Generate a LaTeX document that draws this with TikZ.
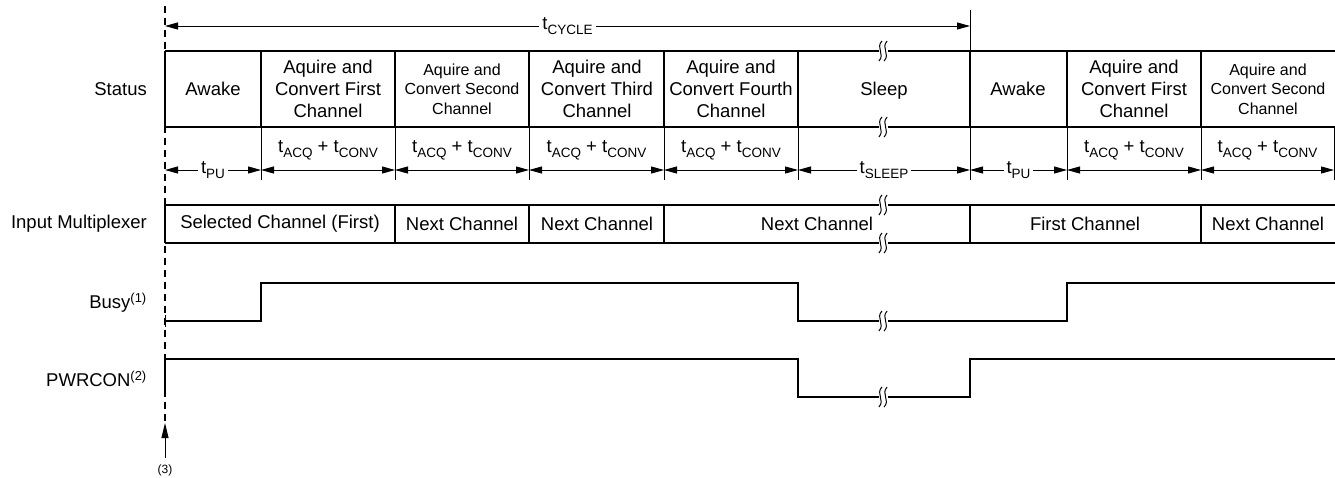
\documentclass[tikz,border=0pt]{standalone}
\usepackage{fontspec}
\setmainfont{Liberation Sans}
\usepackage{tikz}
\usetikzlibrary{arrows.meta,calc}
\newcommand\cellfont{\fontsize{18.5}{21.7}\selectfont}
\newcommand\smallcellfont{\fontsize{16}{19.5}\selectfont}
\newcommand\tsub[1]{t\raisebox{-0.3em}{\fontsize{13.5}{14}\selectfont #1}}
\tikzset{
  frame/.style={line width=2pt},
  thinline/.style={line width=0.9pt},
  sig/.style={line width=2pt, line join=miter},
  dim/.style={{Triangle[length=13pt,width=7pt]}-{Triangle[length=13pt,width=7pt]}, line width=0.9pt},
  marker/.style={-{Triangle[length=15pt,width=7pt]}, line width=0.9pt},
  dashline/.style={line width=1.8pt, dash pattern=on 7pt off 5pt},
  cell/.style={align=center, font=\cellfont, inner sep=0pt},
  smallcell/.style={align=center, font=\smallcellfont, inner sep=0pt},
  rowlbl/.style={anchor=east, font=\cellfont, inner sep=0pt},
  tlbl/.style={font=\cellfont, fill=white, inner sep=3pt},
  acqlbl/.style={font=\cellfont, anchor=base, inner sep=0pt},
  brk/.pic={
    \fill[white] (-4.5,-3) rectangle (4.5,3);
    \foreach \o in {-2.6,2.6}
      \draw[line width=1pt] (\o+1.5,-10) .. controls (\o-5,-3) and (\o+5,3) .. (\o-1.5,10);
  }
}
\begin{document}
\begin{tikzpicture}[x=1pt,y=-1pt]
\useasboundingbox (0,0) rectangle (1335,477);
% row labels
\node[rowlbl] (lstatus) at (147,89) {Status};
\node[rowlbl] (lmux) at (147,224) {Input Multiplexer};
\node[rowlbl] (lbusy) at (147,303) {Busy\textsuperscript{(1)}};
\node[rowlbl] (lpwr) at (147,379) {PWRCON\textsuperscript{(2)}};
% start marker
\draw[dashline] (165,6) -- (165,424);
\coordinate (mark) at (165,458);
\coordinate (marktip) at (165,423);
\draw[marker] (mark) -- (marktip);
\node[font=\fontsize{12}{14}\selectfont, inner sep=0pt] (note3) at (165,470) {(3)};
% cycle time
\coordinate (cyc0) at (165,26);
\coordinate (cyc1) at (970,26);
\draw[thinline] (970,10) -- (970,51);
\draw[dim] (cyc0) -- (cyc1) node[tlbl, midway] (tcycle) {\tsub{CYCLE}};
% status row
\draw[frame] (165,51) -- (1335,51);
\draw[frame] (165,127) -- (1335,127);
\foreach \x in {165,261,395,529,664,798,970,1067,1201}
  \draw[frame] (\x,51) -- (\x,127);
\node[cell] (awake1) at (213,89) {Awake};
\node[cell] (acq1) at (328,89) {Aquire and\\Convert First\\Channel};
\node[smallcell] (acq2) at (462,89) {Aquire and\\Convert Second\\Channel};
\node[cell] (acq3) at (597,89) {Aquire and\\Convert Third\\Channel};
\node[cell] (acq4) at (731,89) {Aquire and\\Convert Fourth\\Channel};
\node[cell] (sleep) at (884,91) {Sleep};
\node[cell] (awake2) at (1018,89) {Awake};
\node[cell] (acq5) at (1134,89) {Aquire and\\Convert First\\Channel};
\node[smallcell] (acq6) at (1268,89) {Aquire and\\Convert Second\\Channel};
% timing row
\foreach \x [count=\i from 0] in {165,261,395,529,664,798,970,1067,1201,1334}
  \coordinate (t\i) at (\x,170);
\foreach \i in {1,...,9}
  \draw[thinline] (t\i) ++(0,-43) -- ++(0,53);
\draw[dim] (t0) -- (t1) node[tlbl, midway] (tpu1) {\tsub{PU}};
\foreach \a/\b in {1/2,2/3,3/4,4/5,7/8,8/9} {
  \draw[dim] (t\a) -- (t\b);
  \node[acqlbl] (tacq\a) at ($(t\a)!0.5!(t\b)+(0,-18)$) {\tsub{ACQ} + \tsub{CONV}};
}
\draw[dim] (t5) -- (t6) node[tlbl, midway] (tsleep) {\tsub{SLEEP}};
\draw[dim] (t6) -- (t7) node[tlbl, midway] (tpu2) {\tsub{PU}};
% input multiplexer
\draw[frame] (165,205) -- (1335,205);
\draw[frame] (165,243) -- (1335,243);
\foreach \x in {165,395,529,664,970,1201}
  \draw[frame] (\x,205) -- (\x,243);
\node[cell] (mux1) at (280,224) {Selected Channel (First)};
\node[cell] (mux2) at (462,224) {Next Channel};
\node[cell] (mux3) at (597,224) {Next Channel};
\node[cell] (mux4) at (817,224) {Next Channel};
\node[cell] (mux5) at (1085,224) {First Channel};
\node[cell] (mux6) at (1268,224) {Next Channel};
% busy
\draw[thinline] (165,315) -- (165,327);
\draw[sig] (165,321) -- (261,321) -- (261,283) -- (798,283) -- (798,321)
  -- (1067,321) -- (1067,283) -- (1335,283);
% pwrcon
\draw[sig] (165,397) -- (165,359) -- (798,359) -- (798,397) -- (970,397)
  -- (970,359) -- (1335,359);
% breaks
\foreach \y in {51,127,205,243,321,397}
  \pic at (883,\y) {brk};
\end{tikzpicture}
\end{document}
